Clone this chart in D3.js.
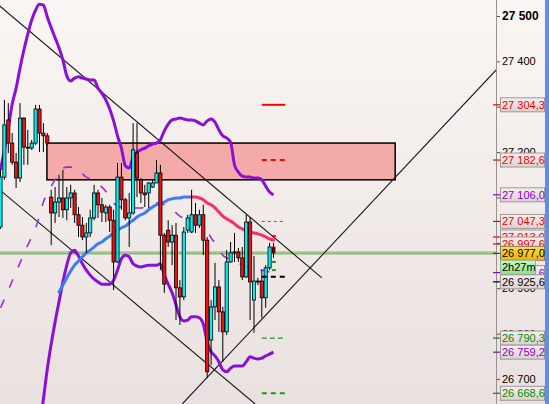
<!DOCTYPE html>
<html><head><meta charset="utf-8">
<script src="https://cdn.jsdelivr.net/npm/d3@7"></script>
<style>html,body{margin:0;padding:0;overflow:hidden;background:#fff}</style>
</head><body><svg id="c" width="549" height="404"></svg>
<script>
// ---------- DATA ----------
const candleIndex = d3.range(71);
const opens  = [27035,27145,27271,27220,27178,27143,27275,27211,27209,27220,27295,27242,27236,27101,27066,27090,27099,27073,27099,27110,27062,27039,27013,27022,27055,27110,27084,27066,27079,27050,26958,27145,27095,27055,27066,27198,27139,27110,27110,27123,27132,27154,27017,27028,27002,27017,26901,26881,27028,27024,27062,27039,27062,27006,26786,26859,26903,26848,26804,26958,26978,26980,26967,26925,27046,26874,26916,26916,26879,26945,26991];
const highs  = [27163,27315,27308,27242,27198,27308,27277,27249,27227,27304,27304,27264,27242,27117,27123,27150,27161,27123,27128,27117,27079,27057,27044,27073,27128,27117,27099,27084,27084,27073,27176,27176,27099,27110,27264,27264,27143,27128,27134,27139,27183,27172,27022,27050,27039,27044,26918,27035,27062,27117,27088,27073,27084,27013,26874,26956,26918,26859,26984,27002,27022,26989,26991,27062,27057,26971,26923,26940,26951,27000,27000];
const lows   = [27031,27139,27198,27172,27121,27134,27172,27172,27205,27216,27200,27200,27216,26995,27044,27057,27055,27050,27077,27044,27013,27006,26978,27013,27050,27055,27046,27046,27024,26896,26956,27073,27050,26991,27062,27101,27088,27079,27077,27121,27132,26940,26890,26991,26951,26830,26819,26874,27022,27022,27022,27033,26973,26702,26731,26830,26804,26738,26797,26956,26958,26958,26918,26923,26830,26802,26907,26835,26857,26940,26967];
const closes = [27145,27260,27220,27178,27143,27275,27211,27209,27220,27295,27242,27236,27220,27066,27090,27099,27073,27099,27110,27062,27039,27013,27022,27055,27110,27084,27068,27079,27050,26958,27145,27095,27055,27066,27205,27143,27110,27106,27132,27132,27154,27017,26909,27002,27017,26901,26881,27024,27055,27062,27039,27062,27006,26716,26859,26903,26848,26804,26958,26978,26980,26967,26925,27046,26914,26916,26916,26879,26945,26991,26977];

const upperBand = [27161,27205,27253,27306,27341,27385,27425,27460,27491,27513,27526,27524,27498,27474,27452,27430,27403,27368,27357,27363,27366,27363,27361,27359,27359,27341,27330,27315,27295,27269,27236,27209,27170,27165,27189,27200,27205,27209,27214,27218,27220,27227,27247,27262,27271,27273,27275,27273,27271,27271,27269,27264,27260,27269,27273,27266,27249,27236,27231,27222,27172,27156,27147,27145,27145,27143,27143,27139,27125,27112,27106];
const midBand = [26857,26876,26896,26916,26936,26956,26976,26995,27013,27033,27059,27090,27110,27125,27139,27150,27165,27167,27167,27167,27163,27152,27145,27141,27136,27130,27123,27114,27101,27088,27081,27079,27077,27077,27077,27077,27077,27079,27081,27086,27088,27086,27084,27079,27073,27066,27059,27055,27055,27055,27053,27048,27044,27028,27011,27000,26987,26973,26967,26962,26958,26956,26951,26949,26945,26945,26942,26940,26938,26936,26934];
const lowerBand = [null,null,null,null,null,null,null,null,null,null,26592,26656,26722,26777,26826,26870,26914,26951,26978,26984,26971,26954,26940,26929,26920,26914,26909,26909,26909,26918,26940,26965,26973,26969,26954,26949,26947,26949,26951,26951,26951,26954,26929,26909,26890,26863,26837,26828,26830,26837,26837,26835,26821,26782,26760,26751,26738,26720,26716,26724,26729,26729,26729,26738,26749,26746,26744,26746,26751,26755,26759.2];
const movingAvg = [null,null,null,null,null,null,null,null,null,null,null,null,null,null,null,26892,26907,26923,26938,26951,26960,26969,26978,26984,26991,26998,27002,27009,27015,27022,27028,27033,27037,27044,27050,27057,27062,27066,27073,27079,27084,27088,27090,27095,27097,27099,27099,27101,27101,27101,27101,27099,27095,27088,27084,27077,27068,27059,27053,27048,27042,27035,27031,27026,27024,27022,27020,27017,27013,27009,27006];
const maTurnIndex = 49;

const tickValues = [27500,27400,27300,27200,27100,27000,26900,26800,26700];
const currentPrice = 26977.0;
const timerText = "2h27m";

// zone (candle index range, price range)
const zoneIndex = [11.9, 101.2];
const zonePrice = [27220, 27139];

// trend lines: [index, price] pairs
const trendLines = [
  [[-0.2, 27522], [82.4, 26923]],
  [[-0.2, 27117], [65.3, 26645]],
  [[46.6, 26645], [127.4, 27384]]
];

// level markers to the right of the last candle
const levelValues = [27304.3, 27182.6, 27047.3, 26925.6, 26790.3, 26668.6];
const levelKinds  = ["r1", "r2", "r3", "piv", "s1", "s2"];
const levelIndex  = [67, 73];
const markValues = [27015, 26958, 26940];
const markKinds  = ["r", "g", "g"];
const markIndex  = [69.6, 70.6];

// price labels on the axis (drawn in this order; later ones cover earlier ones)
const labelValues = [27304.3, 27182.6, 27106.0, 27047.3, 27013.0, 26997.6, 26934.6, 26925.6, 26790.3, 26759.2, 26668.6];
const labelKinds  = ["r", "r", "p", "r", "r", "r", "p", "k", "g", "p", "g"];

// ---------- DRAW ----------
const W = 549, H = 404, axisX = 496;
const svg = d3.select("#c");
const y = d3.scaleLinear().domain([26700, 27500]).range([379.04, 16]);
const x = d3.scaleLinear().domain([0, 70]).range([0.5, 273.5]);

const colors = {r: "#f00000", p: "#8a00d0", g: "#008a00", k: "#000000"};
const levelStyle = {
  r1: {c: "#ff0000", w: 2, d: null},
  r2: {c: "#ff0000", w: 2, d: "5,4"},
  r3: {c: "#ff2020", w: 1, d: "3,3"},
  piv: {c: "#000000", w: 2, d: "5,4"},
  s1: {c: "#1a9a1a", w: 1.2, d: "5,3"},
  s2: {c: "#1a9a1a", w: 2, d: "5,4"}
};

const defs = svg.append("defs");
function grad(id, a, b) {
  const g = defs.append("linearGradient").attr("id", id).attr("x1", 0).attr("y1", 0).attr("x2", 0).attr("y2", 1);
  g.append("stop").attr("offset", 0).attr("stop-color", a);
  g.append("stop").attr("offset", 1).attr("stop-color", b);
}
grad("bg", "#faf6f3", "#e9e1df");
grad("lb", "#f6eeee", "#dcd1d1");
grad("cb", "#ffe040", "#f2b000");
grad("tb", "#c4f8c4", "#8fe08f");
defs.append("clipPath").attr("id", "clip").append("rect").attr("width", axisX).attr("height", H);

svg.append("rect").attr("width", W).attr("height", H).attr("fill", "url(#bg)");

const plot = svg.append("g").attr("clip-path", "url(#clip)");

// zone
plot.append("rect")
  .attr("x", x(zoneIndex[0])).attr("y", y(zonePrice[0]))
  .attr("width", x(zoneIndex[1]) - x(zoneIndex[0]))
  .attr("height", y(zonePrice[1]) - y(zonePrice[0]))
  .attr("fill", "#f5aaaa").attr("stroke", "#000").attr("stroke-width", 1.5);

// current price line
plot.append("line").attr("x1", 0).attr("x2", axisX).attr("y1", y(currentPrice) - 1.3).attr("y2", y(currentPrice) - 1.3)
  .attr("stroke", "#c08a80").attr("stroke-width", 1);
plot.append("line").attr("x1", 0).attr("x2", axisX).attr("y1", y(currentPrice) + 0.3).attr("y2", y(currentPrice) + 0.3)
  .attr("stroke", "#66d066").attr("stroke-width", 1.8);

// trend lines
plot.selectAll("line.tl").data(trendLines).join("line").attr("class", "tl")
  .attr("x1", d => x(d[0][0])).attr("y1", d => y(d[0][1]))
  .attr("x2", d => x(d[1][0])).attr("y2", d => y(d[1][1]))
  .attr("stroke", "#1a1a1a").attr("stroke-width", 1.1);

// bands
const lineGen = d3.line().defined(d => d[1] != null).x(d => x(d[0])).y(d => y(d[1])).curve(d3.curveMonotoneX);
const ser = arr => candleIndex.map(i => [i, arr[i]]);
plot.append("path").attr("d", lineGen(ser(midBand))).attr("fill", "none")
  .attr("stroke", "#9a2ed8").attr("stroke-width", 1.6).attr("stroke-dasharray", "9,13");
plot.append("path").attr("d", lineGen(ser(upperBand))).attr("fill", "none")
  .attr("stroke", "#8a10d8").attr("stroke-width", 3).attr("stroke-linejoin", "round");
plot.append("path").attr("d", lineGen(ser(lowerBand))).attr("fill", "none")
  .attr("stroke", "#8a10d8").attr("stroke-width", 3).attr("stroke-linejoin", "round");

// moving average
const maPts = ser(movingAvg);
plot.append("path").attr("d", lineGen(maPts.filter(d => d[0] <= maTurnIndex))).attr("fill", "none")
  .attr("stroke", "#3d7cf5").attr("stroke-width", 3).attr("stroke-linecap", "round");
plot.append("path").attr("d", lineGen(maPts.filter(d => d[0] >= maTurnIndex))).attr("fill", "none")
  .attr("stroke", "#ff2a68").attr("stroke-width", 3).attr("stroke-linecap", "round");

// candles
const last = candleIndex.length - 1;
const cg = plot.append("g");
cg.selectAll("line.w").data(candleIndex).join("line").attr("class", "w")
  .attr("x1", i => x(i)).attr("x2", i => x(i))
  .attr("y1", i => y(highs[i])).attr("y2", i => y(lows[i]))
  .attr("stroke", "#000").attr("stroke-width", 1);
cg.selectAll("rect.b").data(candleIndex).join("rect").attr("class", "b")
  .attr("x", i => x(i) - 1.6).attr("width", 3.2)
  .attr("y", i => y(Math.max(opens[i], closes[i])))
  .attr("height", i => Math.max(1, Math.abs(y(opens[i]) - y(closes[i]))))
  .attr("fill", i => i === last ? "#200000" : closes[i] > opens[i] ? "#00eef2" : closes[i] < opens[i] ? "#f01010" : "#000")
  .attr("stroke", i => i === last ? "#f01010" : "#000").attr("stroke-width", 0.8);

// level markers
plot.selectAll("line.lv").data(levelValues).join("line").attr("class", "lv")
  .attr("x1", x(levelIndex[0])).attr("x2", x(levelIndex[1]))
  .attr("y1", d => y(d)).attr("y2", d => y(d))
  .attr("stroke", (d, i) => levelStyle[levelKinds[i]].c)
  .attr("stroke-width", (d, i) => levelStyle[levelKinds[i]].w)
  .attr("stroke-dasharray", (d, i) => levelStyle[levelKinds[i]].d);
plot.selectAll("line.mk").data(markValues).join("line").attr("class", "mk")
  .attr("x1", x(markIndex[0])).attr("x2", x(markIndex[1]))
  .attr("y1", d => y(d)).attr("y2", d => y(d))
  .attr("stroke", (d, i) => markKinds[i] === "r" ? "#ff0000" : "#1a9a1a").attr("stroke-width", 2);

// ---------- right price axis ----------
const bh = 14;
const locale = d3.formatLocale({decimal: ",", thousands: " ", grouping: [3], currency: ["", ""]});
const fmt0 = locale.format(",.0f"), fmt1 = locale.format(",.1f");

// label centre positions: the timer sits under the current price box,
// and a label falling under the timer is pushed below it
const timerY = y(currentPrice) + bh;
const labelY = labelValues.map((v, i) => labelKinds[i] === "k" ? Math.max(y(v), timerY + bh + 0.5) : y(v));
const boxes = labelY.concat([y(currentPrice), timerY]);
const covered = t => boxes.some(c => Math.abs(c - y(t)) < 3);

const ax = svg.append("g").attr("transform", `translate(${axisX},0)`)
  .call(d3.axisRight(y).tickValues(tickValues).tickSize(4).tickPadding(2)
    .tickFormat(t => covered(t) ? "" : fmt0(t)));
ax.select(".domain").remove();
ax.selectAll(".tick line").attr("stroke", "#555");
ax.selectAll(".tick text").attr("font-family", "Liberation Sans, Arial, sans-serif").attr("font-size", 11).attr("fill", "#000");
ax.selectAll(".tick text").filter(d => d === 27500).attr("font-weight", "bold").attr("font-size", 12);
svg.append("line").attr("x1", axisX + 0.5).attr("x2", axisX + 0.5).attr("y1", 0).attr("y2", H)
  .attr("stroke", "#9a9090").attr("stroke-width", 1);

function box(yy, w, fill, stroke, textColor, text, tickColor) {
  if (tickColor) svg.append("line").attr("x1", axisX - 3).attr("x2", axisX + 4).attr("y1", yy).attr("y2", yy)
    .attr("stroke", tickColor).attr("stroke-width", 1.2);
  svg.append("rect").attr("x", axisX + 4.5).attr("y", yy - bh / 2).attr("width", w).attr("height", bh)
    .attr("fill", fill).attr("stroke", stroke).attr("stroke-width", 1);
  svg.append("text").attr("x", axisX + 6).attr("y", yy).attr("dy", "0.36em")
    .attr("font-family", "Liberation Sans, Arial, sans-serif").attr("font-size", 11)
    .attr("fill", textColor).text(text);
}
labelValues.forEach((v, i) => {
  if (i === 7) {
    box(y(currentPrice), 44, "url(#cb)", "#8a8070", "#000", fmt1(currentPrice), "#3a3a3a");
    box(timerY, 35, "url(#tb)", "#90b890", "#000", timerText, null);
  }
  const c = colors[labelKinds[i]];
  box(labelY[i], 44, "url(#lb)", "#a09898", c, fmt1(v), c);
});

// right blue strip
svg.append("rect").attr("x", 545).attr("y", 0).attr("width", 4).attr("height", H).attr("fill", "#5590f2");
</script></body></html>
